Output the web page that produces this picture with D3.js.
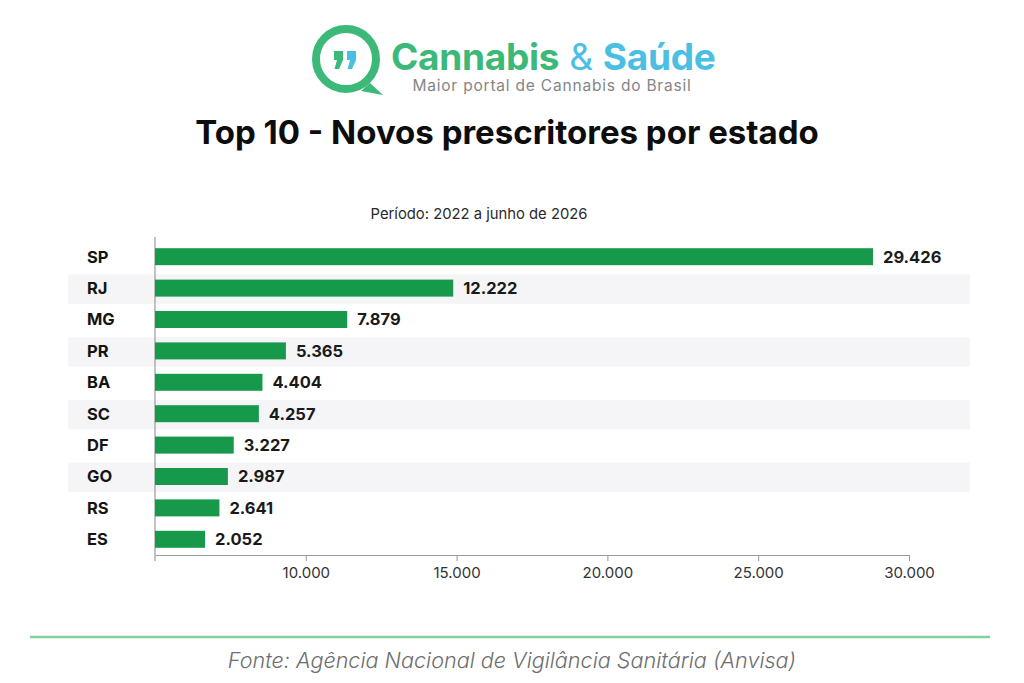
<!DOCTYPE html>
<html>
<head>
<meta charset="utf-8">
<script src="https://cdn.jsdelivr.net/npm/d3@7"></script>
<style>
  body { margin: 0; background: #ffffff; }
  text { font-family: Inter, "Open Sans", sans-serif; }
  .stateLabel { font-size: 16.5px; font-weight: 700; fill: #141414; }
  .valueLabel { font-size: 16.5px; font-weight: 700; fill: #1a1a1a; }
  .tickLabel { font-size: 15px; fill: #333; }
</style>
</head>
<body>
<div id="canvas"></div>
<script>
"use strict"
// canvas size
let svgWidth = 1024;
let svgHeight = 683;

// data
let states = ["SP", "RJ", "MG", "PR", "BA", "SC", "DF", "GO", "RS", "ES"];
let prescribers = [29426, 12222, 7879, 5365, 4404, 4257, 3227, 2987, 2641, 2052];
let tickValues = [10000, 15000, 20000, 25000, 30000];
// rows that get the light grey band behind them
let bandedStates = ["RJ", "PR", "SC", "GO"];

let green = "#17994c";
let logoGreen = "#3cb878";
let logoBlue = "#4bbfe3";

let svg = d3.select("#canvas")
    .append("svg")
    .attr("width", svgWidth)
    .attr("height", svgHeight);

svg.append("rect")
    .attr("width", svgWidth)
    .attr("height", svgHeight)
    .attr("fill", "#ffffff");

// number format with "." as thousands separator
let ptBR = d3.formatLocale({ decimal: ",", thousands: ".", grouping: [3], currency: ["R$", ""] });
let fmt = ptBR.format(",d");

//---------------- logo ----------------
let logo = svg.append("g");

logo.append("path")
    .attr("d", "M 370 83 L 383 95 L 361 91")
    .attr("fill", logoGreen);
logo.append("circle")
    .attr("cx", 346).attr("cy", 59).attr("r", 30)
    .attr("fill", "none")
    .attr("stroke", logoGreen)
    .attr("stroke-width", 8);

// the two quote marks, a block with a little tail
function quoteMark(x, y, color){
    logo.append("path")
        .attr("d", "M" + x + "," + y + " h9 v9 l-4,9 h-4.5 l2.5,-9 h-3 z")
        .attr("fill", color);
}
quoteMark(334, 51, logoGreen);
quoteMark(347, 51, logoBlue);

let logoText = logo.append("text")
    .attr("x", 391).attr("y", 70)
    .attr("font-size", 37)
    .attr("font-weight", 700)
    .attr("letter-spacing", -0.3);
logoText.append("tspan").attr("fill", logoGreen).text("Cannabis");
logoText.append("tspan").attr("fill", logoBlue).attr("font-weight", 400).text(" & ");
logoText.append("tspan").attr("fill", logoBlue).text("Saúde");

logo.append("text")
    .attr("x", 552).attr("y", 91)
    .attr("text-anchor", "middle")
    .attr("font-size", 15.5)
    .attr("fill", "#858585")
    .attr("letter-spacing", 0.8)
    .text("Maior portal de Cannabis do Brasil");

//---------------- titles ----------------
svg.append("text")
    .attr("x", 507).attr("y", 144)
    .attr("text-anchor", "middle")
    .attr("font-size", 33)
    .attr("font-weight", 700)
    .attr("fill", "#0d0d0d")
    .text("Top 10 - Novos prescritores por estado");

svg.append("text")
    .attr("x", 479).attr("y", 219)
    .attr("text-anchor", "middle")
    .attr("font-size", 14.8)
    .attr("fill", "#2a2a2a")
    .text("Período: 2022 a junho de 2026");

//---------------- scales ----------------
let axisLeft = 155;

// the printed axis starts at 5.000 on the left edge
let xAxisScale = d3.scaleLinear()
    .domain([5000, 30000])
    .range([axisLeft, 909]);

// bars are drawn from the left edge, scaled to the top value
let xBar = d3.scaleLinear()
    .domain([0, 30000])
    .range([axisLeft, 887]);

let yScale = d3.scaleBand()
    .domain(states)
    .range([241, 555]);

let rows = states.map(function(s, i){
    return { state: s, value: prescribers[i] };
});

//---------------- row bands ----------------
svg.append("g")
    .selectAll("rect")
    .data(bandedStates)
    .join("rect")
    .attr("x", 68)
    .attr("y", function(d){ return yScale(d) + 2; })
    .attr("width", 902)
    .attr("height", yScale.bandwidth() - 2)
    .attr("fill", "#f5f5f7");

//---------------- axis ----------------
let axis = svg.append("g");

axis.append("line")
    .attr("x1", axisLeft).attr("x2", axisLeft)
    .attr("y1", 237).attr("y2", 561)
    .attr("stroke", "#9a9a9a")
    .attr("stroke-width", 1.2);

let xAxis = d3.axisBottom(xAxisScale)
    .tickValues(tickValues)
    .tickSize(6)
    .tickSizeOuter(0)
    .tickFormat(function(d){ return fmt(d); });

let axisG = svg.append("g")
    .attr("transform", "translate(0,555)")
    .call(xAxis);

axisG.select(".domain").attr("stroke", "#9a9a9a").attr("stroke-width", 1.2);
axisG.selectAll(".tick line").attr("stroke", "#9a9a9a");
axisG.selectAll(".tick text")
    .attr("class", "tickLabel")
    .attr("dy", null)
    .attr("y", 23)
    .attr("font-family", null)
    .attr("font-size", null)
    .attr("fill", null);

//---------------- bars ----------------
let barH = 17;

svg.append("g")
    .selectAll("rect")
    .data(rows)
    .join("rect")
    .attr("x", xBar(0))
    .attr("y", function(d){ return yScale(d.state) + yScale.bandwidth() / 2 - barH / 2; })
    .attr("width", function(d){ return xBar(d.value) - xBar(0); })
    .attr("height", barH)
    .attr("fill", green);

svg.append("g")
    .selectAll("text")
    .data(rows)
    .join("text")
    .attr("class", "valueLabel")
    .attr("x", function(d){ return xBar(d.value) + 10; })
    .attr("y", function(d){ return yScale(d.state) + yScale.bandwidth() / 2; })
    .attr("dy", "0.36em")
    .text(function(d){ return fmt(d.value); });

svg.append("g")
    .selectAll("text")
    .data(rows)
    .join("text")
    .attr("class", "stateLabel")
    .attr("x", 87)
    .attr("y", function(d){ return yScale(d.state) + yScale.bandwidth() / 2; })
    .attr("dy", "0.36em")
    .text(function(d){ return d.state; });

//---------------- footer ----------------
svg.append("line")
    .attr("x1", 30).attr("x2", 990)
    .attr("y1", 637).attr("y2", 637)
    .attr("stroke", "#7fd09d")
    .attr("stroke-width", 2.5);

svg.append("text")
    .attr("x", 512).attr("y", 668)
    .attr("text-anchor", "middle")
    .attr("font-size", 21.6)
    .attr("font-style", "italic")
    .attr("font-weight", 300)
    .attr("fill", "#6e6e6e")
    .text("Fonte: Agência Nacional de Vigilância Sanitária (Anvisa)");
</script>
</body>
</html>
